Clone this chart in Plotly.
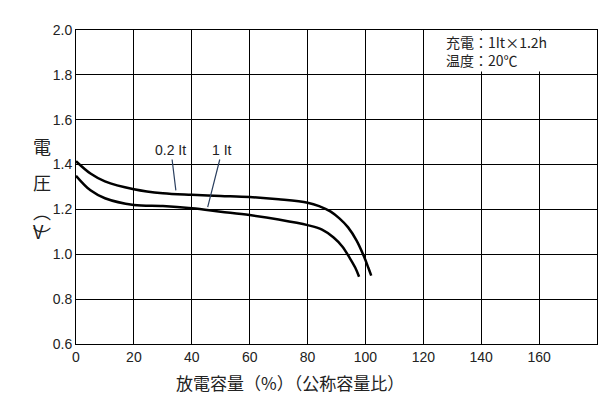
import plotly.graph_objects as go

# discharge curves
cap_02 = [0, 5, 10, 20, 30, 40, 50, 60, 70, 80, 84, 88, 91, 94, 97, 99.5, 101, 102]
volt_02 = [1.415, 1.36, 1.325, 1.29, 1.272, 1.265, 1.26, 1.255, 1.245, 1.23, 1.215, 1.19, 1.16, 1.12, 1.06, 0.99, 0.94, 0.905]
cap_1 = [0, 5, 10, 20, 30, 40, 50, 60, 70, 80, 85, 89, 92, 94.5, 96.5, 97.8]
volt_1 = [1.35, 1.285, 1.25, 1.22, 1.215, 1.205, 1.19, 1.175, 1.155, 1.13, 1.11, 1.075, 1.035, 0.985, 0.94, 0.9]

fnt = "Noto Sans CJK JP"
fig = go.Figure()
line = dict(color="black", width=2.5)
fig.add_trace(go.Scatter(x=cap_02, y=volt_02, mode="lines", line=dict(line, shape="spline"), showlegend=False))
fig.add_trace(go.Scatter(x=cap_1, y=volt_1, mode="lines", line=dict(line, shape="spline"), showlegend=False))

axis = dict(showgrid=True, gridcolor="black", gridwidth=1, showline=True, linecolor="black",
            mirror=True, zeroline=False, ticks="", automargin=False,
            tickfont=dict(family="Liberation Sans", size=14, color="#222"))
fig.update_xaxes(axis, range=[0, 180],
                 tickvals=[0, 20, 40, 60, 80, 100, 120, 140, 160, 180],
                 ticktext=["0", "20", "40", "60", "80", "100", "120", "140", "160", ""])
fig.update_yaxes(axis, range=[0.6, 2.0], dtick=0.2, tickformat=".1f")

fig.add_annotation(x=127, y=1.905, xref="x", yref="y", text="充電：1It×1.2h<br>温度：20℃",
                   showarrow=False, align="left", xanchor="left", bgcolor="white",
                   font=dict(family=fnt, size=14, color="#222"))
fig.add_annotation(x=34.5, y=1.285, ax=32.8, ay=1.465, axref="x", ayref="y", text="0.2 It",
                   showarrow=True, arrowhead=0, arrowwidth=1.2,
                   font=dict(family="Liberation Sans", size=14, color="#222"))
fig.add_annotation(x=45.5, y=1.21, ax=50.5, ay=1.465, axref="x", ayref="y", text="1 It",
                   showarrow=True, arrowhead=0, arrowwidth=1.2,
                   font=dict(family="Liberation Sans", size=14, color="#222"))
for txt, yy in [("電", 0.63), ("圧", 0.515), ("︵", 0.425), ("V", 0.36), ("︶", 0.3)]:
    fig.add_annotation(x=-0.087, y=yy, xref="paper", yref="paper", text=txt, showarrow=False,
                       font=dict(family=fnt, size=18, color="#222"))
fig.add_annotation(x=0.41, y=-0.17, xref="paper", yref="paper", text="放電容量（%）（公称容量比）",
                   showarrow=False, font=dict(family=fnt, size=17, color="#222"))

fig.update_layout(width=610, height=401, margin=dict(l=68, r=21, t=22, b=65),
                  plot_bgcolor="white", paper_bgcolor="white")
fig.write_html("out.html")
